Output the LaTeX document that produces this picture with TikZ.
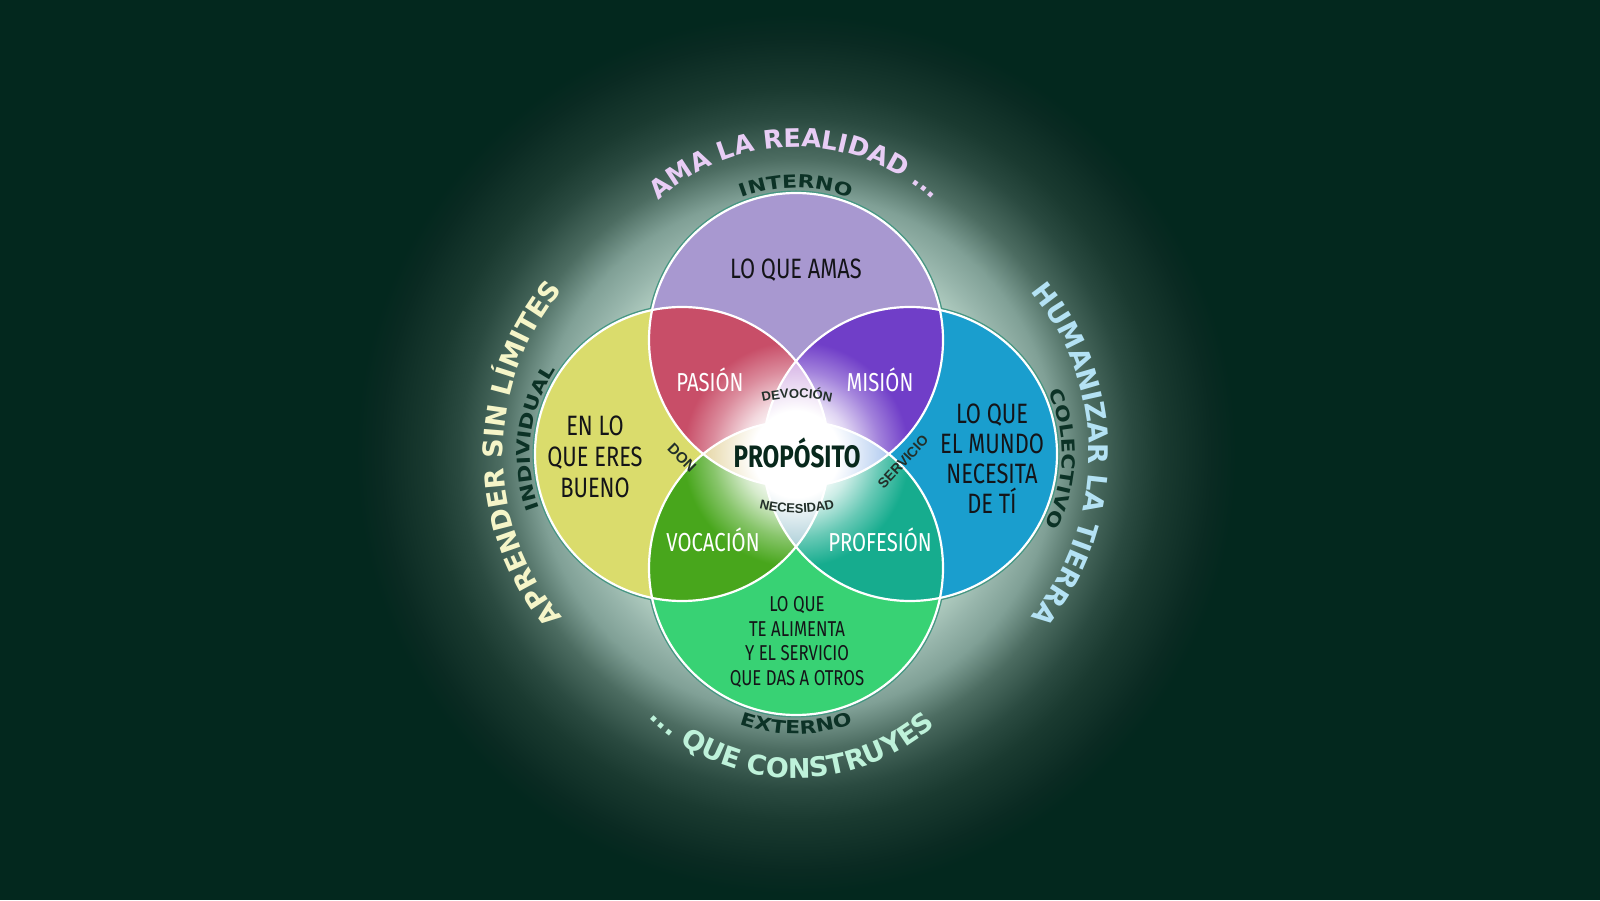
\documentclass[tikz,border=0pt]{standalone}
\usepackage{fontspec}
\setmainfont{DejaVu Sans}
\newfontfamily\condfam[FakeStretch=0.78]{Fira Sans}
\newfontfamily\widefam[FakeStretch=1.22]{DejaVu Sans}
\newfontfamily\arialfam{Liberation Sans}
\usetikzlibrary{decorations.text}

\definecolor{bgdark}{RGB}{3,40,30}
\definecolor{g0}{RGB}{188,212,200}
\definecolor{g1}{RGB}{176,204,192}
\definecolor{g2}{RGB}{152,182,172}
\definecolor{g3}{RGB}{128,160,150}
\definecolor{g4}{RGB}{76,108,97}
\definecolor{g5}{RGB}{42,74,64}
\definecolor{g6}{RGB}{26,58,48}
\definecolor{g7}{RGB}{10,42,34}
\definecolor{cTop}{RGB}{168,152,208}
\definecolor{cLeft}{RGB}{218,220,108}
\definecolor{cRight}{RGB}{26,158,206}
\definecolor{cBot}{RGB}{56,210,116}
\definecolor{cPas}{RGB}{200,78,104}
\definecolor{cMis}{RGB}{112,62,200}
\definecolor{cVoc}{RGB}{72,166,28}
\definecolor{cPro}{RGB}{22,172,142}
\definecolor{cEdge}{RGB}{70,150,130}
\definecolor{tTop}{RGB}{212,176,228}
\definecolor{tBot}{RGB}{168,204,214}
\definecolor{tLeft}{RGB}{228,212,160}
\definecolor{tRight}{RGB}{170,198,238}
\definecolor{cAma}{RGB}{232,205,245}
\definecolor{cApr}{RGB}{245,245,200}
\definecolor{cHum}{RGB}{180,226,244}
\definecolor{cQue}{RGB}{190,242,218}
\definecolor{cLab}{RGB}{12,50,38}
\definecolor{cSmall}{RGB}{35,48,42}
\definecolor{cProp}{RGB}{8,40,28}
\definecolor{cInk}{RGB}{20,20,24}

\pgfdeclareradialshading{bgglow}{\pgfpoint{0bp}{0bp}}{color(0bp)=(g0); color(11.08bp)=(g0); color(11.65bp)=(g1); color(13.07bp)=(g2); color(14.77bp)=(g3); color(16.82bp)=(g4); color(19.09bp)=(g5); color(20.8bp)=(g6); color(23.64bp)=(g7); color(25bp)=(bgdark); color(50bp)=(bgdark)}

\newcommand\pairshade[2]{%
  \colorlet{#1A}{#2!22!white}%
  \colorlet{#1B}{#2!65!white}%
  \pgfdeclareradialshading{#1}{\pgfpoint{0bp}{0bp}}{color(0bp)=(white); color(7bp)=(white); color(11.5bp)=(#1A); color(17.5bp)=(#1B); color(23.5bp)=(#2); color(50bp)=(#2)}}
\newcommand\tripleshade[2]{%
  \colorlet{#1A}{#2!45!white}%
  \pgfdeclareradialshading{#1}{\pgfpoint{0bp}{0bp}}{color(0bp)=(white); color(9bp)=(white); color(14bp)=(#1A); color(20bp)=(#2); color(50bp)=(#2)}}
\pairshade{shPas}{cPas}
\pairshade{shMis}{cMis}
\pairshade{shVoc}{cVoc}
\pairshade{shPro}{cPro}
\tripleshade{shTT}{tTop}
\tripleshade{shBB}{tBot}
\tripleshade{shLL}{tLeft}
\tripleshade{shRR}{tRight}

\newcommand\outf{\bfseries\fontsize{25.5}{25.5}\selectfont}
\newcommand\outfb{\bfseries\fontsize{27}{27}\selectfont}
\newcommand\wlab{\widefam\bfseries\fontsize{18}{18}\selectfont\color{cLab}}
\newcommand\smallf{\arialfam\bfseries\fontsize{13}{13}\selectfont\color{cSmall}}

\begin{document}
\begin{tikzpicture}[x=1pt,y=1pt,
  lbl/.style={font=\condfam\fontsize{28}{31}\selectfont, text=cInk, align=center, inner sep=0pt},
  wlbl/.style={font=\condfam\fontsize{26}{28}\selectfont, text=white, align=center, inner sep=0pt},
  slbl/.style={font=\arialfam\bfseries\fontsize{14}{14}\selectfont, text=cSmall, inner sep=0pt},
  rim/.style={cEdge, line width=5pt},
  wline/.style={white, line width=2.2pt}]
\useasboundingbox (0,0) rectangle (1600,900);
\coordinate (C) at (796,446);
\coordinate (T) at (796,560);
\coordinate (L) at (682,446);
\coordinate (R) at (910,446);
\coordinate (B) at (796,332);
\coordinate (TT) at (796,550);
\coordinate (LL) at (758,446);
\coordinate (RR) at (834,446);
\coordinate (DV) at (797,352);
\coordinate (NC) at (797,537);

% background
\begin{scope}
\clip (0,0) rectangle (1600,900);
\fill[bgdark] (0,0) rectangle (1600,900);
\shade[shading=bgglow] (C) circle (440);
\end{scope}

% circles
\foreach \c in {T,L,R,B} \draw[rim] (\c) circle (147);
\fill[cTop] (T) circle (147);
\fill[cLeft] (L) circle (147);
\fill[cRight] (R) circle (147);
\fill[cBot] (B) circle (147);

% pair regions
\begin{scope}\clip (T) circle (147); \clip (L) circle (147); \fill[cPas] (C) circle (300); \shade[shading=shPas] (C) circle (120);\end{scope}
\begin{scope}\clip (T) circle (147); \clip (R) circle (147); \fill[cMis] (C) circle (300); \shade[shading=shMis] (C) circle (120);\end{scope}
\begin{scope}\clip (B) circle (147); \clip (L) circle (147); \fill[cVoc] (C) circle (300); \shade[shading=shVoc] (C) circle (120);\end{scope}
\begin{scope}\clip (B) circle (147); \clip (R) circle (147); \fill[cPro] (C) circle (300); \shade[shading=shPro] (C) circle (120);\end{scope}
% triple regions
\begin{scope}\clip (T) circle (147); \clip (L) circle (147); \clip (R) circle (147); \shade[shading=shTT] (C) circle (120);\end{scope}
\begin{scope}\clip (B) circle (147); \clip (L) circle (147); \clip (R) circle (147); \shade[shading=shBB] (C) circle (120);\end{scope}
\begin{scope}\clip (T) circle (147); \clip (B) circle (147); \clip (L) circle (147); \shade[shading=shLL] (C) circle (120);\end{scope}
\begin{scope}\clip (T) circle (147); \clip (B) circle (147); \clip (R) circle (147); \shade[shading=shRR] (C) circle (120);\end{scope}

\foreach \c in {T,L,R,B} \draw[wline] (\c) circle (147);

% labels
\node[lbl] (amas) at (796,630) {LO QUE AMAS};
\node[lbl] (bueno) at (595,443) {EN LO\\QUE ERES\\BUENO};
\node[lbl, font=\condfam\fontsize{28}{30}\selectfont] (mundo) at (992,441) {LO QUE\\EL MUNDO\\NECESITA\\DE TÍ};
\node[lbl, font=\condfam\fontsize{21.5}{24.5}\selectfont] (alimenta) at (797,258) {LO QUE\\TE ALIMENTA\\Y EL SERVICIO\\QUE DAS A OTROS};
\node[wlbl] (pasion) at (710,520) {PASIÓN};
\node[wlbl] (mision) at (880,520) {MISIÓN};
\node[wlbl] (vocacion) at (713,360) {VOCACIÓN};
\node[wlbl] (profesion) at (880,360) {PROFESIÓN};
\node[font=\condfam\bfseries\fontsize{31}{31}\selectfont, text=cProp, inner sep=0pt] (proposito) at (797,447) {PROPÓSITO};
\node[slbl, font=\arialfam\bfseries\fontsize{15}{15}\selectfont, rotate=-45] (don) at (682,442) {DON};
\node[slbl, rotate=47] (servicio) at (903,438) {SERVICIO};

% small curved labels
\path[decorate, decoration={text along path, text={|\smallf|DEVOCIÓN}, text align=center}]
  (DV) ++(110:150) arc[start angle=110, end angle=70, radius=150];
\path[decorate, decoration={text along path, text={|\smallf|NECESIDAD}, text align=center}]
  (NC) ++(-112:150) arc[start angle=-112, end angle=-68, radius=150];

% inner ring labels
\path[decorate, decoration={text along path, text={|\wlab|INTERNO}, text align=center}]
  (T) ++(125:152) arc[start angle=125, end angle=55, radius=152];
\path[decorate, decoration={text along path, text={|\wlab|EXTERNO}, text align=center}]
  (B) ++(-125:166) arc[start angle=-125, end angle=-55, radius=166];
\path[decorate, decoration={text along path, text={|\wlab|INDIVIDUAL}, text align=center}]
  (L) ++(216:152) arc[start angle=216, end angle=131, radius=152];
\path[decorate, decoration={text along path, text={|\wlab|COLECTIVO}, text align=center}]
  (R) ++(40:152) arc[start angle=40, end angle=-44, radius=152];

% outer labels
\path[decorate, decoration={text along path, text={|\outf\color{cAma}|AMA LA REALIDAD ...}, text align=center}]
  (TT) ++(150:203) arc[start angle=150, end angle=30, radius=203];
\path[decorate, decoration={text along path, text={|\outfb\color{cApr}|APRENDER SIN LÍMITES}, text align=center}]
  (LL) ++(225:255) arc[start angle=225, end angle=135, radius=255];
\path[decorate, decoration={text along path, text={|\outfb\color{cHum}|HUMANIZAR LA TIERRA}, text align=center}]
  (RR) ++(45:255) arc[start angle=45, end angle=-45, radius=255];
\path[decorate, decoration={text along path, text={|\outfb\color{cQue}|... QUE CONSTRUYES}, text align=center}]
  (B) ++(-141.5:210) arc[start angle=-141.5, end angle=-41.5, radius=210];
\end{tikzpicture}
\end{document}
